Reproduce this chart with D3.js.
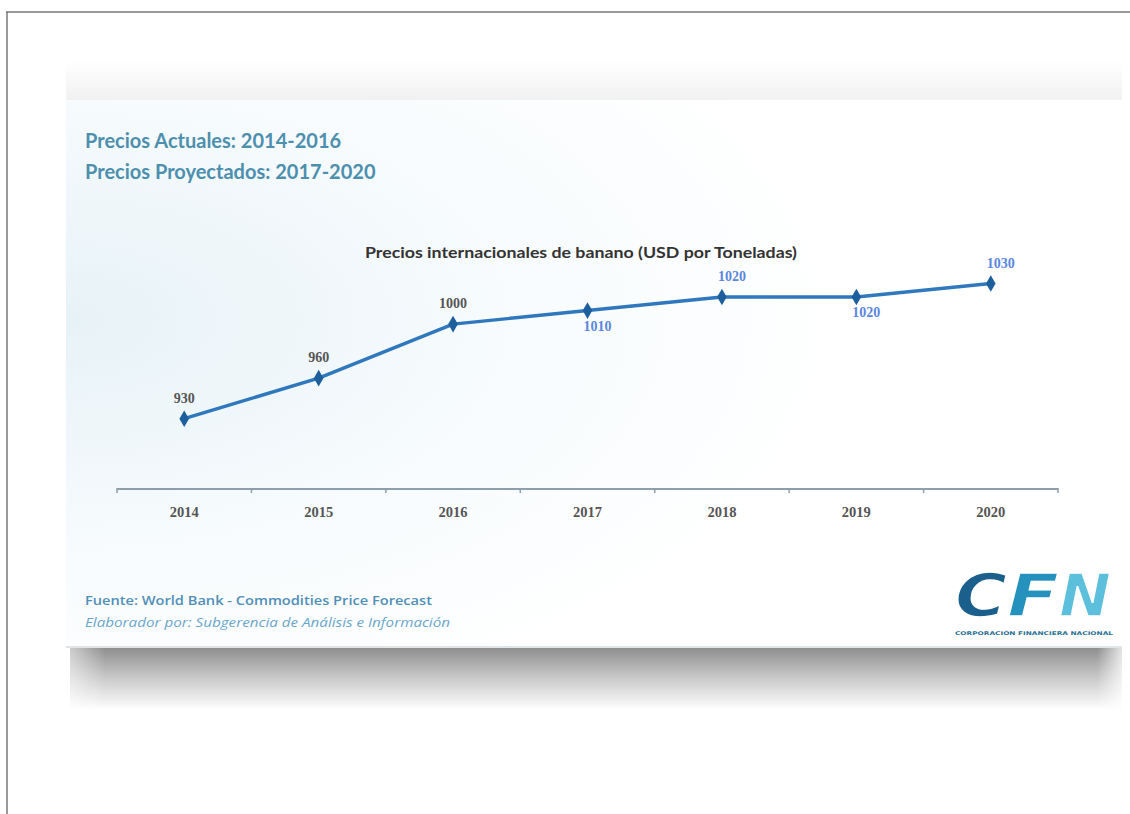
<!DOCTYPE html>
<html><head><meta charset="utf-8">
<script src="https://cdn.jsdelivr.net/npm/d3@7"></script>
<style>body{margin:0;background:#fff}svg{display:block}</style>
</head><body>
<svg id="c" width="1130" height="814"></svg>
<script>
const years = ["2014","2015","2016","2017","2018","2019","2020"];
const prices = [930, 960, 1000, 1010, 1020, 1020, 1030];
const labelPos = ["above","above","above","below","above","below","above"];
const labelKind = ["actual","actual","actual","proj","proj","proj","proj"];
const headerLines = ["Precios Actuales: 2014-2016", "Precios Proyectados: 2017-2020"];
const chartTitle = "Precios internacionales de banano (USD por Toneladas)";
const footerLines = ["Fuente: World Bank - Commodities Price Forecast", "Elaborador por: Subgerencia de Análisis e Información"];

const svg = d3.select("#c");
const defs = svg.append("defs");

const sh = defs.append("linearGradient").attr("id","shBottom").attr("x1",0).attr("y1",0).attr("x2",0).attr("y2",1);
sh.append("stop").attr("offset","0%").attr("stop-color","#8f8f8f");
sh.append("stop").attr("offset","45%").attr("stop-color","#c6c6c6");
sh.append("stop").attr("offset","100%").attr("stop-color","#ffffff");
const shT = defs.append("linearGradient").attr("id","shTop").attr("x1",0).attr("y1",1).attr("x2",0).attr("y2",0);
shT.append("stop").attr("offset","0%").attr("stop-color","#f1f1f1");
shT.append("stop").attr("offset","100%").attr("stop-color","#ffffff");
const fadeX = defs.append("linearGradient").attr("id","fadeX").attr("x1",0).attr("y1",0).attr("x2",1).attr("y2",0);
fadeX.append("stop").attr("offset","0%").attr("stop-color","#fff").attr("stop-opacity",1);
fadeX.append("stop").attr("offset","6%").attr("stop-color","#fff").attr("stop-opacity",0);
fadeX.append("stop").attr("offset","97%").attr("stop-color","#fff").attr("stop-opacity",0);
fadeX.append("stop").attr("offset","100%").attr("stop-color","#fff").attr("stop-opacity",1);
const card = defs.append("radialGradient").attr("id","cardBg").attr("cx","0%").attr("cy","40%").attr("r","75%").attr("fx","0%").attr("fy","40%");
card.append("stop").attr("offset","0%").attr("stop-color","#e7f2f7");
card.append("stop").attr("offset","55%").attr("stop-color","#f7fbfd");
card.append("stop").attr("offset","100%").attr("stop-color","#ffffff");

// frame
svg.append("line").attr("x1",6).attr("x2",1130).attr("y1",12).attr("y2",12).attr("stroke","#777").attr("stroke-width",1.5);
svg.append("line").attr("x1",7).attr("x2",7).attr("y1",12).attr("y2",814).attr("stroke","#777").attr("stroke-width",1.5);

// shadows
svg.append("rect").attr("x",66).attr("y",60).attr("width",1056).attr("height",40).attr("fill","url(#shTop)");
svg.append("rect").attr("x",70).attr("y",648).attr("width",1052).attr("height",62).attr("fill","url(#shBottom)");
svg.append("rect").attr("x",40).attr("y",640).attr("width",1090).attr("height",80).attr("fill","url(#fadeX)");

// card
svg.append("rect").attr("x",66).attr("y",100).attr("width",1056).attr("height",548).attr("fill","url(#cardBg)");
svg.append("line").attr("x1",66).attr("x2",1122).attr("y1",647).attr("y2",647).attr("stroke","#d8dde0").attr("stroke-width",1.5);

// header
svg.selectAll("text.hdr").data(headerLines).join("text").attr("class","hdr")
  .attr("x",85).attr("y",(d,i)=>148+i*31)
  .attr("font-family","Lato, 'Open Sans', sans-serif").attr("font-weight","bold").attr("font-size",20)
  .attr("fill","#4d8fae").text(d=>d);

svg.append("text").attr("x",581).attr("y",258).attr("text-anchor","middle")
  .attr("font-family","Lato, sans-serif").attr("font-weight","bold").attr("font-size",15.5)
  .attr("textLength",432).attr("lengthAdjust","spacingAndGlyphs")
  .attr("fill","#333").text(chartTitle);

// scales
const x = d3.scaleBand().domain(years).range([117,1058]);
const y = d3.scaleLinear().domain([878, 1040]).range([489, 270]);

// axis
const axisG = svg.append("g").attr("transform","translate(0,489)");
axisG.append("line").attr("x1",x.range()[0]).attr("x2",x.range()[1]).attr("stroke","#8d9fad").attr("stroke-width",2);
const bounds = years.map(d=>x(d)).concat([x.range()[1]]);
axisG.selectAll("line.tk").data(bounds).join("line").attr("class","tk")
  .attr("x1",d=>d).attr("x2",d=>d).attr("y1",-1).attr("y2",4).attr("stroke","#8d9fad").attr("stroke-width",1.5);
axisG.selectAll("text").data(years).join("text")
  .attr("x",d=>x(d)+x.bandwidth()/2).attr("y",28).attr("text-anchor","middle")
  .attr("font-family","'Liberation Serif', serif").attr("font-weight","bold").attr("font-size",14.5)
  .attr("fill","#555").text(d=>d);

// line
const pts = years.map((d,i)=>({year:d, v:prices[i], pos:labelPos[i], kind:labelKind[i]}));
const line = d3.line().x(d=>x(d.year)+x.bandwidth()/2).y(d=>y(d.v));
svg.append("path").datum(pts).attr("d",line).attr("fill","none").attr("stroke","#2f78bd").attr("stroke-width",3.4).attr("stroke-linejoin","round");
svg.selectAll("path.mk").data(pts).join("path").attr("class","mk")
  .attr("d", d3.symbol().type(d3.symbolDiamond).size(80))
  .attr("transform",d=>`translate(${x(d.year)+x.bandwidth()/2},${y(d.v)})`)
  .attr("fill","#1d5f9c");

svg.selectAll("text.lbl").data(pts).join("text").attr("class","lbl")
  .attr("x",d=>x(d.year)+x.bandwidth()/2 + (d.kind==="proj" ? 10 : 0))
  .attr("y",d=>y(d.v) + (d.pos==="above" ? -16 : 20))
  .attr("text-anchor","middle")
  .attr("font-family","'Liberation Serif', serif").attr("font-weight","bold").attr("font-size",14)
  .attr("fill",d=>d.kind==="actual" ? "#555" : "#5a86e0").text(d=>d.v);

// footer
svg.append("text").attr("x",85).attr("y",605)
  .attr("font-family","'Open Sans', sans-serif").attr("font-weight","600").attr("font-size",13)
  .attr("textLength",347).attr("lengthAdjust","spacingAndGlyphs")
  .attr("fill","#4f8fb8").text(footerLines[0]);
svg.append("text").attr("x",85).attr("y",627)
  .attr("font-family","'Open Sans', sans-serif").attr("font-style","italic").attr("font-size",13)
  .attr("textLength",365).attr("lengthAdjust","spacingAndGlyphs")
  .attr("fill","#6aa6cc").text(footerLines[1]);

// logo
const logo = svg.append("g").attr("transform","translate(955,566)");
const letters = [{t:"C",c:"#1b5f8c",dx:0},{t:"F",c:"#2592bd",dx:52},{t:"N",c:"#5cc0dc",dx:104}];
logo.selectAll("text").data(letters).join("text")
  .attr("x",d=>d.dx).attr("y",50)
  .attr("font-family","'DejaVu Sans', sans-serif").attr("font-weight","bold").attr("font-style","italic")
  .attr("font-size",58).attr("textLength",52).attr("lengthAdjust","spacingAndGlyphs")
  .attr("fill",d=>d.c).attr("stroke","#ffffff").attr("stroke-width",1.5).text(d=>d.t);
logo.append("text").attr("x",0).attr("y",69).attr("font-family","'DejaVu Sans', sans-serif")
  .attr("font-size",5).attr("font-weight","bold").attr("textLength",158).attr("lengthAdjust","spacingAndGlyphs")
  .attr("fill","#2a6f95").text("CORPORACIÓN FINANCIERA NACIONAL");
</script>
</body></html>
